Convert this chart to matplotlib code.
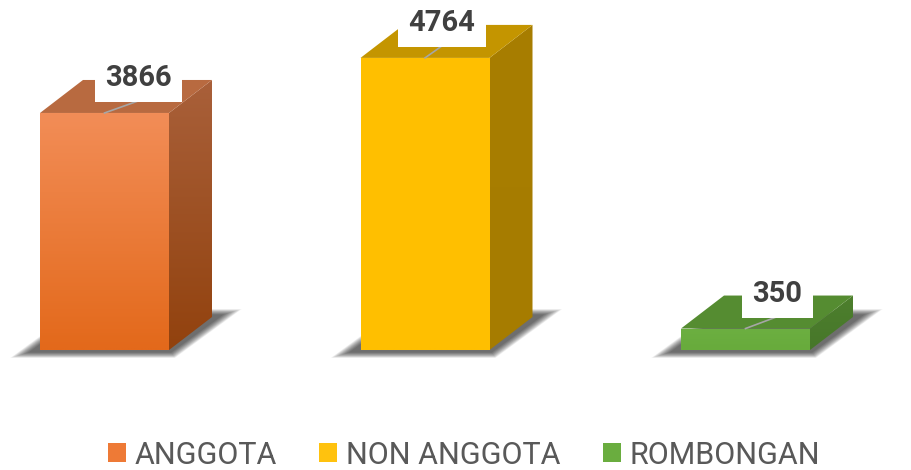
import numpy as np
import matplotlib.pyplot as plt
from matplotlib.colors import to_rgb
from matplotlib.patches import Polygon, Patch

categories = ['ANGGOTA', 'NON ANGGOTA', 'ROMBONGAN']
values = [3866, 4764, 350]

# front (top, bottom), side (top, bottom), top face colours
front_cols = [('#F28D57', '#E3691B'), ('#FFC000', '#FFBF00'), ('#6CAF41', '#68AB3C')]
side_cols = [('#A9603A', '#92420E'), ('#A87E00', '#A67C00'), ('#4D7F2D', '#47772A')]
top_cols = ['#B86A40', '#C49500', '#558C31']
legend_cols = ['#EE7A36', '#FFC20E', '#6AAD3F']

font = ['Roboto', 'DejaVu Sans']

fig = plt.figure(figsize=(9.11, 4.70), dpi=100)
ax = fig.add_axes([0, 0, 1, 1])
ax.axis('off')

ux = 1 / 320.5   # x data units per pixel
uy = 16.31       # y data units per pixel
W = 129 * ux
DX, DY = 43 * ux, 33 * uy


def grad(c_top, c_bot, n=64):
    a = np.array(to_rgb(c_top))
    b = np.array(to_rgb(c_bot))
    t = np.linspace(0, 1, n)[:, None]
    return (a * (1 - t) + b * t)[:, None, :]


label_dx = [0.105, 0.053, 0.10]

for i, v in enumerate(values):
    x0, x1 = i - W / 2, i + W / 2

    # soft shadow around the base
    n = 18
    for k in range(n):
        e = (n - k) * 1.1
        ex, ey = (10 + e) * ux, (e * 0.3) * uy
        pts = [(x0 - ex, -2 * uy - ey), (x1 + ex * 0.2, -2 * uy - ey),
               (x1 + DX + ex, DY + 2 * uy + ey), (x0 + DX - ex * 0.2, DY + 2 * uy + ey)]
        ax.add_patch(Polygon(pts, closed=True, fc='black', ec='none', alpha=0.045, zorder=1))

    # side face
    side = Polygon([(x1, 0), (x1 + DX, DY), (x1 + DX, v + DY), (x1, v)], closed=True,
                   fc='none', ec='none', zorder=2)
    ax.add_patch(side)
    im = ax.imshow(grad(*side_cols[i]), extent=[x1, x1 + DX, 0, v + DY],
                   aspect='auto', zorder=2, interpolation='bilinear')
    im.set_clip_path(side)

    # top face
    ax.add_patch(Polygon([(x0, v), (x1, v), (x1 + DX, v + DY), (x0 + DX, v + DY)],
                         closed=True, fc=top_cols[i], ec='none', zorder=3))

    # front face
    front = Polygon([(x0, 0), (x1, 0), (x1, v), (x0, v)], closed=True,
                    fc='none', ec='none', zorder=3)
    ax.add_patch(front)
    im = ax.imshow(grad(*front_cols[i]), extent=[x0, x1, 0, v],
                   aspect='auto', zorder=3, interpolation='bilinear')
    im.set_clip_path(front)

    # data label with leader line
    lx = i + label_dx[i]
    ly = v + 35 * uy
    ax.plot([i, lx], [v, v + 12 * uy], color='#A6A6A6', lw=1.2, zorder=4)
    ax.text(lx, ly, f'{v}', ha='center', va='center', fontsize=21, fontweight='bold',
            family=font, color='#404040', zorder=5,
            bbox=dict(boxstyle='square,pad=0.35', fc='white', ec='none'))

ax.set_xlim(-104.5 * ux, -104.5 * ux + 911 * ux)
ax.set_ylim(-120 * uy, 350 * uy)

handles = [Patch(facecolor=c, edgecolor='none') for c in legend_cols]
fig.legend(handles, categories, loc='center', bbox_to_anchor=(0.509, 15 / 470), ncol=3,
           frameon=False, prop={'family': font, 'size': 22}, labelcolor='#595959',
           handlelength=0.59, handleheight=0.59, handletextpad=0.27, columnspacing=1.4)

fig.savefig('out.png', dpi=100)
